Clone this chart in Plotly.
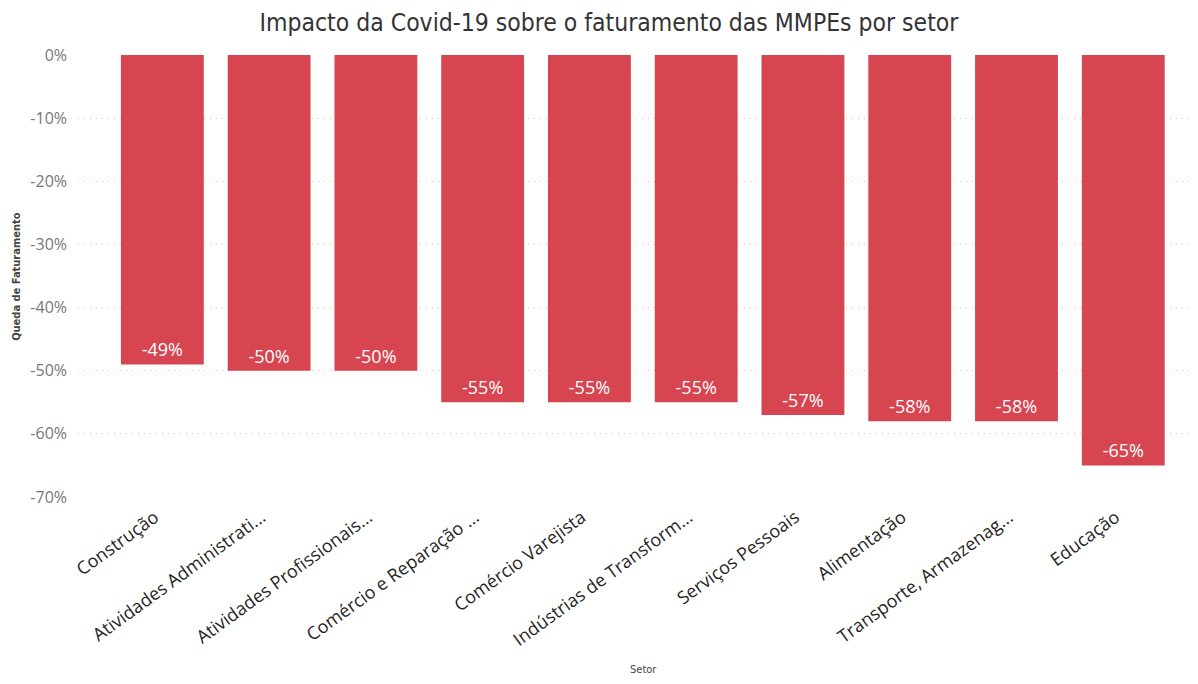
import plotly.graph_objects as go

SETORES = [
    "Construção",
    "Atividades Administrati...",
    "Atividades Profissionais...",
    "Comércio e Reparação ...",
    "Comércio Varejista",
    "Indústrias de Transform...",
    "Serviços Pessoais",
    "Alimentação",
    "Transporte, Armazenag...",
    "Educação",
]
QUEDA = [-49, -50, -50, -55, -55, -55, -57, -58, -58, -65]
Y_TICKS = [0, -10, -20, -30, -40, -50, -60, -70]
Y_TICK_TEXT = ["0%", "-10%", "-20%", "-30%", "-40%", "-50%", "-60%", "-70%"]

BAR_COLOR = "#D64550"
FONT = "Open Sans"
TITLE_FONT = "DejaVu Sans Condensed, Roboto"

# the page body has an 8px margin, so the figure is drawn 8px smaller
fig = go.Figure()
fig.add_trace(
    go.Bar(
        x=SETORES,
        y=QUEDA,
        marker=dict(color=BAR_COLOR, line=dict(width=0)),
        width=0.776,
        text=[f"{v}%" for v in QUEDA],
        textposition="inside",
        insidetextanchor="end",
        constraintext="none",
        textfont=dict(color="white", size=18, family=FONT),
        hovertemplate="%{x}<br>%{y}%<extra></extra>",
    )
)

fig.update_layout(
    width=1190,
    height=676,
    plot_bgcolor="white",
    paper_bgcolor="white",
    margin=dict(l=70, r=0, t=47, b=187),
    showlegend=False,
    title=dict(
        text="Impacto da Covid-19 sobre o faturamento das MMPEs por setor",
        x=0.505,
        xanchor="center",
        y=0.978,
        yanchor="middle",
        font=dict(family=TITLE_FONT, size=24.5, color="#333333"),
    ),
    xaxis=dict(
        range=[-0.79, 9.70],
        tickangle=-36,
        tickvals=SETORES,
        # trailing spaces pull the rotated labels a little left, like the original
        ticktext=[s + "\u00a0\u00a0" for s in SETORES],
        tickfont=dict(family=FONT, size=18, color="#252423"),
        showgrid=False,
        showline=False,
        ticks="",
        ticklabelstandoff=0,
    ),
    yaxis=dict(
        range=[-70, 0],
        tickvals=Y_TICKS,
        ticktext=Y_TICK_TEXT,
        tickfont=dict(family=FONT, size=16, color="#777777"),
        showgrid=True,
        gridcolor="#c8c8c8",
        griddash="1px,5px",
        gridwidth=1,
        zeroline=False,
        showline=False,
        ticks="",
        ticklabelstandoff=10,
    ),
    annotations=[
        dict(
            text="<b>Queda de Faturamento</b>",
            xref="paper", yref="paper",
            x=-0.0555, y=0.5,
            xanchor="center", yanchor="middle",
            textangle=-90,
            showarrow=False,
            font=dict(family=TITLE_FONT, size=11, color="#444444"),
        ),
        dict(
            text="Setor",
            xref="paper", yref="paper",
            x=0.505, y=-0.39,
            xanchor="center", yanchor="middle",
            showarrow=False,
            font=dict(family=TITLE_FONT, size=11, color="#444444"),
        ),
    ],
)

fig.write_html("out.html")
